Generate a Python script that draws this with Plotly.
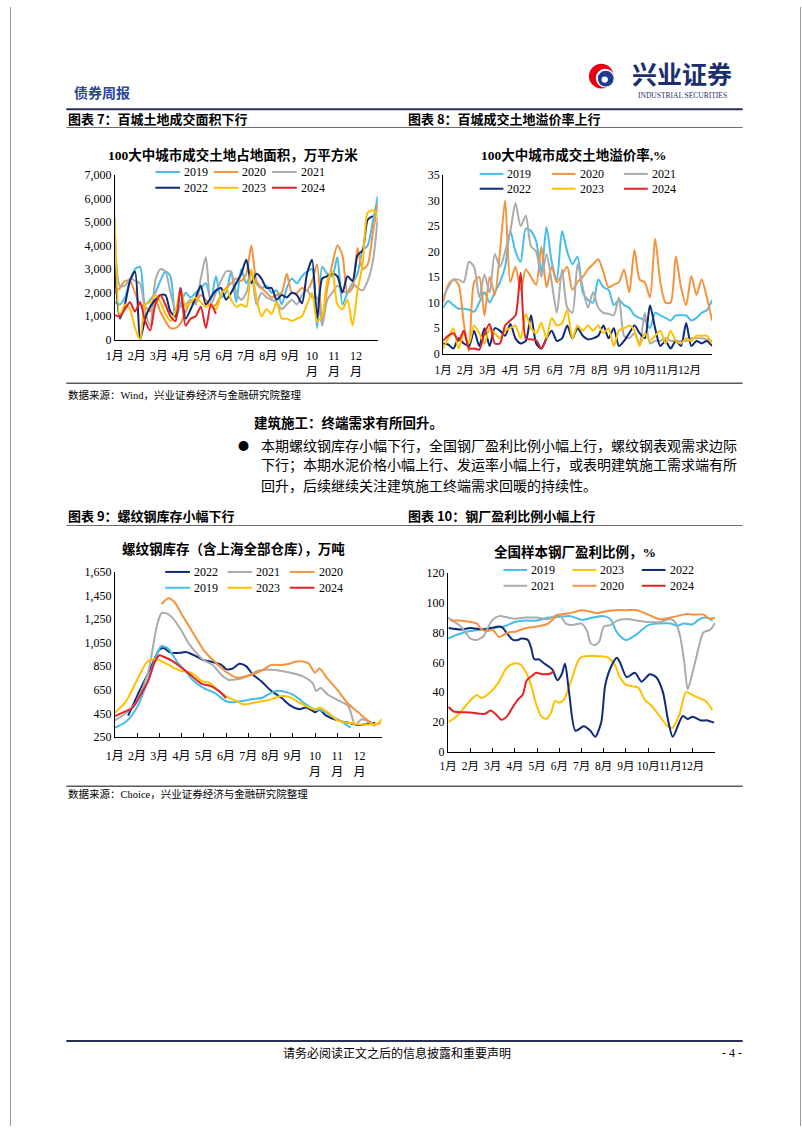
import plotly.graph_objects as go

W, H = 802, 1133


def px(x):
    return x / W


def py(y):
    return 1 - y / H


SERIF = "Liberation Serif, Noto Sans CJK SC, serif"
CJK = "Noto Sans CJK SC, sans-serif"

COLORS = {"2019": "#45BDEB", "2020": "#F5923E", "2021": "#ABABAB",
          "2022": "#0E2A78", "2023": "#FFC000", "2024": "#E32228"}

# ---------------- Chart 7: land area (weekly, 万平方米) ----------------
weeks = list(range(53))
area_2019 = [1600, 1500, 1800, 2500, 3000, 3100, 1500, 1700, 2000, 2500, 2900, 2700, 900, 1500, 2000, 1800,
             2000, 2200, 2400, 1700, 2700, 1800, 2000, 2900, 1600, 3000, 2400, 2800, 2400, 2200, 2300, 2000,
             2100, 1500, 2200, 2600, 2400, 2700, 2900, 3000, 500, 3100, 2800, 2700, 3500, 1500, 2000, 2400,
             2800, 3800, 4000, 5000, 6100]
area_2020 = [2000, 2200, 2500, 2500, 2000, 1500, 1400, 1200, 1700, 1200, 800, 500, 500, 700, 1200, 1600,
             1600, 1900, 1700, 1400, 1500, 1900, 2200, 2400, 2600, 2500, 2800, 4000, 2500, 2200, 2000, 1800,
             1900, 2000, 2800, 2000, 2000, 2200, 2100, 2500, 3200, 700, 2200, 3200, 4000, 3600, 2000, 2200,
             3900, 3000, 3200, 4500, 5800]
area_2021 = [4700, 2300, 2300, 2600, 2500, 2400, 1200, 600, 2500, 3000, 2900, 2000, 1300, 1400, 1500, 1700,
             1500, 2600, 3500, 1500, 2000, 2500, 2900, 2900, 2000, 1700, 2000, 2900, 1500, 2000, 1800, 1700,
             1600, 1300, 1500, 1700, 1500, 1900, 2100, 1800, 1800, 600, 1700, 2000, 2300, 2100, 2000, 2400,
             2200, 2100, 2500, 3300, 5200]
area_2022 = [3200, 900, 1500, 2500, 2900, 0, 900, 1400, 1700, 1900, 1900, 1200, 1000, 2200, 900, 1300,
             1800, 2300, 1500, 1800, 2100, 2200, 1700, 2000, 2400, 2800, 3400, 2400, 2800, 2600, 2200, 2200,
             1700, 1900, 1800, 2000, 1900, 1550, 2800, 3400, 900, 2600, 2700, 2800, 2700, 2000, 2700, 2500,
             3600, 3800, 5100, 5250]
area_2023 = [5200, 1000, 1500, 1300, 500, 0, 1500, 1600, 1900, 1600, 1100, 800, 1200, 2100, 1400, 1600,
             1800, 1600, 1400, 1500, 1300, 1900, 2200, 1700, 1400, 1500, 1400, 3000, 1800, 1000, 1300, 1100,
             1600, 900, 900, 800, 900, 1000, 1500, 2000, 800, 1000, 2500, 2900, 1500, 1300, 1700, 600,
             2100, 3200, 5400, 5500, 5300]
area_2024 = [1050, 1000, 1300, 1600, 1200, 1600, 800, 400, 1500, 1900, 1500, 1000, 800, 2200, 600, 900,
             1000, 1400, 500, 1500, 1100]

# ---------------- Chart 8: land premium rate (weekly, %) ----------------
prem_2019 = [9, 10.3, 9.5, 8.8, 8.8, 8.6, 8.2, 10, 12, 10, 12, 14, 17, 24, 20, 18, 24.5, 24, 22, 16, 24.8,
             18, 14.5, 24, 20, 17.5, 19, 12, 10.5, 10, 14.5, 13, 12.5, 9.5, 10.5, 9.5, 9, 7.5, 7, 6.5, 5, 8,
             7.5, 7, 6.5, 7.5, 7.5, 7.5, 6.5, 7, 8, 8.5, 10.5]
prem_2020 = [10, 13.5, 14.5, 13.5, 6, 0.5, 14, 15, 7.5, 15, 11.5, 20, 30, 14, 17, 12.5, 16.5, 15, 13.5, 21,
             13, 17, 14, 15.5, 17, 12.5, 14, 15, 16.5, 17.5, 18.5, 16, 13, 13.5, 14, 16.5, 12, 20.3, 14.5,
             14, 11, 22.5, 14, 10, 10, 19, 13, 9.5, 15.2, 11.5, 14.5, 11, 6.5]
prem_2021 = [11, 13, 14.5, 14.5, 14, 18, 17, 11, 15.5, 12, 19.5, 17, 20, 24, 29.5, 25, 27, 21, 20, 15, 19.5,
             14, 8, 16.5, 9, 8, 17.5, 13, 9, 12, 9, 8, 7.8, 7.5, 11, 3.5, 3, 4, 2, 8, 2, 2.5, 2.5, 3, 2.5,
             2.5, 2.5, 2.5, 3, 3, 3, 2.8, 2.5]
prem_2022 = [2, 1.8, 1, 3, 2, 1.5, 4.5, 1.5, 5, 1.5, 5, 4.5, 3.5, 5.8, 3, 2, 2.5, 7.5, 2, 1, 3, 4.5, 2.5, 3,
             5.5, 3, 5, 3.5, 2.8, 3, 3.5, 5.5, 3, 5, 1.5, 2.5, 4, 5.5, 4, 3, 9.5, 5, 1.5, 2.5, 1, 2.5, 1.5,
             6, 1.5, 2.5, 2, 2.5, 1.5]
prem_2023 = [1, 3, 5, 1, 4, 2, 5.5, 4, 2, 5, 4, 3, 4.5, 5, 5.5, 3, 7.8, 5, 4, 6, 3, 7, 5.5, 6, 8.5, 3, 5.5,
             4.5, 5.5, 4.5, 5.5, 4, 5, 1.5, 4.5, 5, 5.5, 4.5, 1.5, 4, 2.5, 3.5, 4.5, 2, 4.5, 2.5, 2, 3, 2.5,
             3.5, 3.5, 3.5, 2]
prem_2024 = [2.5, 3.5, 4, 2.5, 4.5, 1, 1, 0.8, 4, 5.8, 2, 2, 5.5, 6.5, 7.5, 15.8, 3, 2.8, 2.6, 1, 3]

# ---------------- Chart 9: rebar inventory (万吨), x in months since Jan 1 ----------------
rebar_2022_t = [0.6, 1.1, 1.6, 2.0, 2.2, 2.5, 3.0, 3.2, 3.7, 4.0, 4.3, 4.8, 5.0, 5.3, 5.6, 5.9, 6.2, 6.6, 7.0,
                7.5, 7.9, 8.3, 8.6, 8.9, 9.0, 9.2, 9.5, 10.0, 10.5, 11.0, 11.3, 11.7]
rebar_2022 = [430, 636, 831, 990, 1005, 965, 965, 970, 930, 900, 890, 860, 825, 830, 870, 850, 780, 720, 645,
              580, 515, 485, 500, 470, 460, 480, 430, 390, 370, 350, 360, 370]
rebar_2021_t = [0, 0.5, 1.0, 1.5, 1.9, 2.1, 2.3, 2.6, 3.0, 3.3, 3.7, 4.0, 4.4, 4.8, 5.1, 5.5, 5.9, 6.2, 6.5,
                7.0, 7.5, 8.0, 8.5, 8.9, 9.05, 9.25, 9.6, 10.0, 10.5, 10.8, 11.1, 11.4, 11.7]
rebar_2021 = [390, 450, 555, 800, 1200, 1300, 1300, 1260, 1150, 1050, 955, 900, 860, 775, 735, 740, 760, 790,
              815, 820, 810, 790, 760, 705, 640, 665, 605, 565, 510, 355, 400, 380, 340]
rebar_2020_t = [2.1, 2.4, 2.7, 3.0, 3.5, 4.0, 4.5, 5.0, 5.5, 5.8, 6.2, 6.7, 7.0, 7.5, 7.8, 8.1, 8.4, 8.7, 9.0,
                9.2, 9.55, 10.0, 10.45, 10.97, 11.3, 11.7, 11.95]
rebar_2020 = [1376, 1426, 1390, 1292, 1138, 985, 887, 803, 753, 760, 781, 823, 859, 860, 868, 887, 890, 876,
              795, 830, 747, 650, 538, 454, 398, 356, 370]
rebar_2019_t = [0, 0.5, 1.0, 1.5, 1.9, 2.1, 2.4, 2.8, 3.2, 3.5, 4.0, 4.5, 5.0, 5.3, 5.8, 6.2, 6.6, 7.0, 7.3,
                7.7, 8.0, 8.3, 8.6, 9.0, 9.4, 9.8, 10.2, 10.6]
rebar_2019 = [328, 378, 501, 733, 960, 1021, 999, 887, 803, 733, 663, 622, 552, 543, 557, 571, 580, 622, 641,
              630, 608, 570, 524, 482, 468, 418, 380, 328]
rebar_2023_t = [0, 0.5, 1.0, 1.4, 1.65, 2.0, 2.3, 2.7, 3.0, 3.3, 3.6, 3.9, 4.3, 4.6, 5.0, 5.4, 5.8, 6.2, 6.6,
                7.0, 7.4, 7.8, 8.2, 8.6, 9.0, 9.2, 9.6, 10.0, 10.5, 11.0, 11.5, 11.8, 12.0]
rebar_2023 = [454, 552, 733, 873, 909, 901, 873, 831, 809, 800, 775, 725, 705, 650, 594, 560, 524, 538, 552,
              566, 594, 590, 552, 510, 482, 500, 455, 390, 370, 356, 356, 360, 398]
rebar_2024_t = [0, 0.5, 0.8, 1.2, 1.5, 1.8, 2.0, 2.2, 2.6, 3.0, 3.5, 3.9, 4.3, 4.7, 5.0]
rebar_2024 = [426, 468, 496, 620, 725, 887, 943, 930, 893, 837, 761, 700, 683, 636, 580]

# ---------------- Chart 10: steel mill profit ratio (%), x in months ----------------
profit_2019_t = [0, 0.5, 1, 1.5, 2, 2.5, 3, 3.5, 4, 4.5, 5, 5.5, 6, 6.5, 7, 7.3, 7.6, 8, 8.5, 9, 9.5, 10,
                 10.3, 10.6, 11, 11.3, 11.6, 11.9]
profit_2019 = [76, 79, 81, 82, 83, 84, 87, 88, 88, 90, 90.5, 91, 88.5, 90, 91, 89, 80, 75, 79, 85, 86, 86,
               84.5, 86, 85.5, 89, 90, 88]
profit_2023_t = [0.03, 0.4, 0.92, 1.29, 1.51, 1.91, 2.25, 2.62, 2.92, 3.21, 3.44, 3.73, 3.96, 4.18, 4.4,
                 4.62, 4.81, 4.99, 5.21, 5.59, 5.88, 6.1, 6.92, 7.21, 7.51, 7.73, 7.99, 8.25, 8.55, 8.84,
                 9.14, 9.51, 9.88, 10.1, 10.4, 10.7, 10.99, 11.29, 11.58, 11.88]
profit_2023 = [20, 24, 33, 38, 36, 40, 46, 56, 59, 59, 55, 45, 32, 24, 22, 26, 34, 33, 35, 50, 62, 64, 64,
               63, 58, 50, 45, 44, 43, 35, 31, 24, 17, 16, 25, 40, 38, 36, 34, 28]
profit_2022_t = [0.03, 0.62, 0.99, 1.59, 1.91, 2.33, 2.47, 2.62, 2.92, 3.14, 3.29, 3.59, 3.73, 3.88, 4.1,
                 4.25, 4.55, 4.7, 4.92, 5.11, 5.26, 5.44, 5.73, 6.1, 6.4, 6.62, 6.89, 7.07, 7.36, 7.59,
                 7.73, 8.03, 8.4, 8.7, 9.07, 9.36, 9.66, 9.88, 10.1, 10.55, 10.77, 11.0, 11.36, 11.66, 11.96]
profit_2022 = [83, 82, 83, 82, 83, 84, 83, 80, 75, 75, 76, 75, 70, 62, 62, 60, 57, 55, 48, 52, 59, 40, 14,
               17, 14, 10, 20, 45, 58, 63, 60, 50, 53, 47, 52, 50, 40, 22, 10, 24, 22, 23.5, 21, 21, 19.5]
profit_2021_t = [0, 0.3, 0.5, 0.8, 1, 1.3, 1.6, 1.75, 2, 2.3, 2.7, 3, 3.5, 4, 4.5, 5, 5.3, 5.6, 6, 6.25,
                 6.4, 6.6, 6.8, 7, 7.3, 7.6, 8, 8.5, 9, 9.5, 10, 10.25, 10.44, 10.62, 10.77, 10.92, 11.14,
                 11.48, 11.8, 12]
profit_2021 = [90, 87, 85, 80, 76, 75, 77.5, 82, 88.5, 91, 90, 89.3, 90, 90, 89, 92, 86, 85, 86, 81, 73,
               71.5, 74, 84, 85, 88, 89, 88, 87, 87, 89, 86, 77, 60, 42, 49, 62, 80, 82, 86.5]
profit_2020_t = [0.1, 0.5, 1, 1.3, 1.5, 1.8, 2, 2.3, 2.7, 3, 3.5, 4, 4.5, 4.8, 5, 5.5, 6, 6.4, 6.7, 7, 7.5,
                 8, 8.5, 9, 9.5, 10, 10.3, 10.7, 11, 11.5, 11.7, 12]
profit_2020 = [88, 88, 87, 86, 82, 81, 82, 77, 80, 80.5, 83, 84, 86, 90, 92, 93, 95, 94, 93, 94, 95, 95, 95,
               92, 89, 90, 91, 92.5, 92, 92, 89.5, 90]
profit_2024_t = [0.03, 0.25, 0.99, 1.66, 1.91, 2.15, 2.4, 2.62, 2.92, 3.14, 3.36, 3.54, 3.78, 3.96, 4.25,
                 4.62, 4.77]
profit_2024 = [30, 27, 26.3, 25.4, 27.6, 25.1, 21.4, 23.2, 30.2, 35, 38.4, 47.9, 51, 53, 52, 52.5, 54.5]

# ---------------- tick labels ----------------
month_labels = ["1月", "2月", "3月", "4月", "5月", "6月", "7月", "8月", "9月", "10月", "11月", "12月"]
month_labels_wrap = ["1月", "2月", "3月", "4月", "5月", "6月", "7月", "8月", "9月", "10<br>月", "11<br>月", "12<br>月"]
month_idx = list(range(12))
week_ticks = [m * 52 / 12 for m in month_idx]

fig = go.Figure()


def add(x, y, year, ax):
    fig.add_trace(go.Scatter(
        x=x, y=y, name=year, mode="lines", showlegend=False,
        xaxis="x" + ax, yaxis="y" + ax, hoverinfo="skip",
        line=dict(color=COLORS[year], width=2, shape="spline", smoothing=0.7)))


for yr, vals in [("2019", area_2019), ("2020", area_2020), ("2021", area_2021),
                 ("2022", area_2022), ("2023", area_2023), ("2024", area_2024)]:
    add(weeks[:len(vals)], vals, yr, "")
for yr, vals in [("2019", prem_2019), ("2020", prem_2020), ("2021", prem_2021),
                 ("2022", prem_2022), ("2023", prem_2023), ("2024", prem_2024)]:
    add(weeks[:len(vals)], vals, yr, "2")
for yr, t, vals in [("2022", rebar_2022_t, rebar_2022), ("2021", rebar_2021_t, rebar_2021),
                    ("2020", rebar_2020_t, rebar_2020), ("2019", rebar_2019_t, rebar_2019),
                    ("2023", rebar_2023_t, rebar_2023), ("2024", rebar_2024_t, rebar_2024)]:
    add(t, vals, yr, "3")
for yr, t, vals in [("2019", profit_2019_t, profit_2019), ("2023", profit_2023_t, profit_2023),
                    ("2022", profit_2022_t, profit_2022), ("2021", profit_2021_t, profit_2021),
                    ("2020", profit_2020_t, profit_2020), ("2024", profit_2024_t, profit_2024)]:
    add(t, vals, yr, "4")

tickfont = dict(family=SERIF, size=12, color="#000")
tickfont_small = dict(family=SERIF, size=11.5, color="#000")
axbase = dict(showline=True, linecolor="#000", linewidth=1, showgrid=False, zeroline=False,
              tickfont=tickfont, fixedrange=True, tickangle=0)

layout_axes = dict(
    xaxis=dict(axbase, domain=[px(107), px(373)], anchor="y", range=[0, 52], tickmode="array",
               tickvals=week_ticks, ticktext=month_labels_wrap, ticks="", ticklabelstandoff=5),
    yaxis=dict(axbase, domain=[py(337), py(170)], anchor="x", range=[0, 7000], dtick=1000, tick0=0,
               tickformat=",d", ticks=""),
    xaxis2=dict(axbase, domain=[px(439), px(711)], anchor="y2", range=[0, 52], tickmode="array",
                tickvals=week_ticks, ticktext=month_labels, ticks="", tickfont=tickfont_small,
                ticklabelstandoff=6),
    yaxis2=dict(axbase, domain=[py(351), py(170)], anchor="x2", range=[0, 35], dtick=5, tick0=0, ticks=""),
    xaxis3=dict(axbase, domain=[px(107), px(377)], anchor="y3", range=[0, 12], tickmode="array",
                tickvals=month_idx, ticktext=month_labels_wrap, ticks="inside", ticklen=4, tickcolor="#000",
                ticklabelstandoff=8),
    yaxis3=dict(axbase, domain=[py(739), py(572)], anchor="x3", range=[250, 1650], dtick=200, tick0=250,
                tickformat=",d", ticks=""),
    xaxis4=dict(axbase, domain=[px(444), px(714)], anchor="y4", range=[0, 12], tickmode="array",
                tickvals=month_idx, ticktext=month_labels, ticks="inside", ticklen=4, tickcolor="#000",
                tickfont=tickfont_small, ticklabelstandoff=4),
    yaxis4=dict(axbase, domain=[py(754), py(573)], anchor="x4", range=[0, 120], dtick=20, tick0=0, ticks=""),
)

shapes = []
annotations = []


def hline(y, x0, x1, color, width):
    shapes.append(dict(type="line", xref="paper", yref="paper", x0=px(x0), x1=px(x1), y0=py(y), y1=py(y),
                       line=dict(color=color, width=width)))


def text(s, x, y, size, family=CJK, color="#000", xanchor="left", bold=False):
    if bold:
        s = "<b>" + s + "</b>"
    annotations.append(dict(text=s, x=px(x), y=py(y), xref="paper", yref="paper", showarrow=False,
                            xanchor=xanchor, yanchor="middle", font=dict(family=family, size=size, color=color)))


# page frame
for fx in (1.5, 800.5):
    shapes.append(dict(type="line", xref="paper", yref="paper", x0=px(fx), x1=px(fx), y0=0, y1=1,
                       line=dict(color="#9A9A9A", width=1)))

# header
text("债券周报", 64, 86, 14, color="#2B4699", bold=True)


def circle(cx, cy, r, color):
    shapes.append(dict(type="circle", xref="paper", yref="paper", x0=px(cx - r), x1=px(cx + r),
                       y0=py(cy + r), y1=py(cy - r), fillcolor=color, line=dict(width=0)))


circle(599, 70, 12.5, "#E60012")
circle(603, 72, 9.5, "#FFFFFF")
circle(603.5, 72.5, 8, "#1D3C8F")
circle(602.5, 73.5, 3.2, "#FFFFFF")
text("兴业证券", 681, 67, 25, color="#1B2F6E", xanchor="center", bold=True)
text("INDUSTRIAL SECURITIES", 681, 90, 7.5, family="Liberation Serif", color="#1B2F6E", xanchor="center")

hline(103.5, 58, 742, "#2A2F5A", 2)
text("图表 7：百城土地成交面积下行", 58, 113, 13, bold=True)
text("图表 8：百城成交土地溢价率上行", 401, 113, 13, bold=True)
hline(122, 58, 742, "#6E6E6E", 1)

# chart titles
text("100大中城市成交土地占地面积，万平方米", 227, 150, 13.5, family=SERIF, xanchor="center", bold=True)
text("100大中城市成交土地溢价率,%", 571, 150, 13.5, family=SERIF, xanchor="center", bold=True)
text("螺纹钢库存（含上海全部仓库），万吨", 227, 549, 13.5, family=SERIF, xanchor="center", bold=True)
text("全国样本钢厂盈利比例，%", 572, 552, 13.5, family=SERIF, xanchor="center", bold=True)

# legend keys
legend_specs = [
    (148, 59, 25, (167, 183), [["2019", "2020", "2021"], ["2022", "2023", "2024"]]),
    (476, 73, 24, (169, 184), [["2019", "2020", "2021"], ["2022", "2023", "2024"]]),
    (158, 63, 25, (572, 588), [["2022", "2021", "2020"], ["2019", "2023", "2024"]]),
    (500, 70, 24, (570, 586), [["2019", "2023", "2022"], ["2021", "2020", "2024"]]),
]
for x0, pitch, llen, rows, order in legend_specs:
    for ri, row in enumerate(order):
        for ci, yr in enumerate(row):
            lx = x0 + ci * pitch
            shapes.append(dict(type="line", xref="paper", yref="paper", x0=px(lx), x1=px(lx + llen),
                               y0=py(rows[ri]), y1=py(rows[ri]), line=dict(color=COLORS[yr], width=2)))
            text(yr, lx + llen + 2, rows[ri], 12, family="Liberation Serif")

hline(381, 58, 742, "#5A5A5A", 1.5)
text("数据来源：Wind，兴业证券经济与金融研究院整理", 58, 393, 10.5, family=SERIF)

# body text
text("建筑施工：终端需求有所回升。", 246, 420, 13.5, bold=True)
text("●", 230, 443, 11)
text("本期螺纹钢库存小幅下行，全国钢厂盈利比例小幅上行，螺纹钢表观需求边际", 253, 443, 14)
text("下行；本期水泥价格小幅上行、发运率小幅上行，或表明建筑施工需求端有所", 253, 463, 14)
text("回升，后续继续关注建筑施工终端需求回暖的持续性。", 253, 484, 14)

text("图表 9：螺纹钢库存小幅下行", 58, 515, 13, bold=True)
text("图表 10：钢厂盈利比例小幅上行", 401, 515, 13, bold=True)
hline(525, 58, 742, "#6E6E6E", 1)
hline(789, 58, 742, "#5A5A5A", 1.5)
text("数据来源：Choice，兴业证券经济与金融研究院整理", 58, 797, 10.5, family=SERIF)

# footer
hline(1047, 58, 742, "#2A2F5A", 2)
text("请务必阅读正文之后的信息披露和重要声明", 392, 1059, 12, xanchor="center")
text("- 4 -", 731, 1059, 12, family="Liberation Serif", xanchor="center")

fig.update_layout(
    width=W, height=H, autosize=False, margin=dict(l=0, r=0, t=0, b=0),
    paper_bgcolor="white", plot_bgcolor="rgba(0,0,0,0)", showlegend=False,
    shapes=shapes, annotations=annotations, **layout_axes)

fig.write_html("out.html", config={"displayModeBar": False, "staticPlot": True},
               post_script="document.body.style.margin='0';")
